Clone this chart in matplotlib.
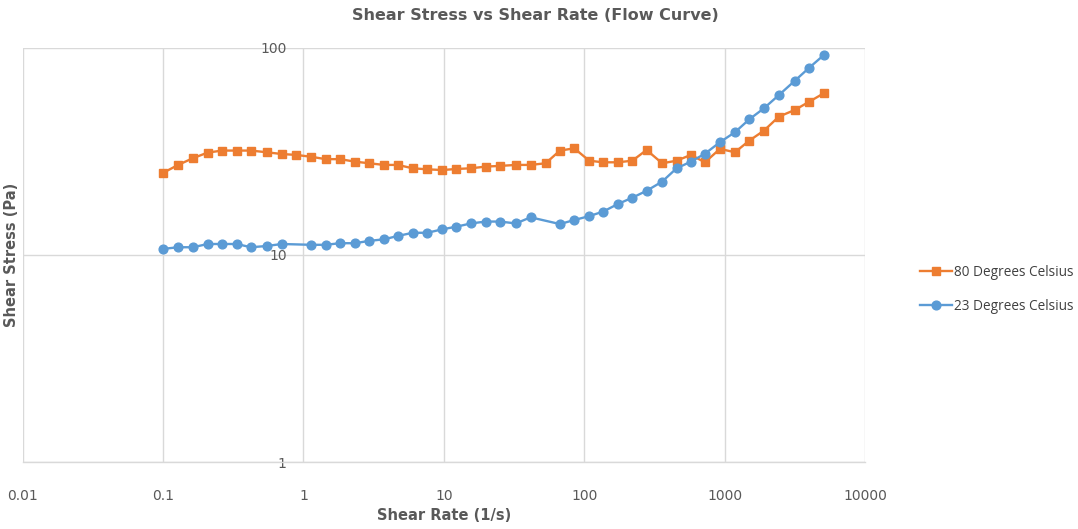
import matplotlib
matplotlib.use("Agg")
import matplotlib.pyplot as plt

# ---- data ----
rate_80 = [0.1, 0.128, 0.163, 0.208, 0.264, 0.334, 0.423, 0.547, 0.70, 0.884,
           1.125, 1.44, 1.82, 2.33, 2.94, 3.74, 4.69, 6.0, 7.62, 9.74,
           12.3, 15.6, 19.9, 25.1, 32.6, 41.5, 53.1, 67.1, 84.9, 108.5,
           136.5, 173, 220, 278, 359, 455, 575, 724, 926, 1184,
           1497, 1905, 2436, 3165, 4008, 5094]
stress_80 = [24.9, 27.2, 29.3, 31.2, 31.9, 31.9, 31.9, 31.3, 30.7, 30.4,
             29.8, 29.0, 29.0, 28.2, 27.7, 27.2, 27.2, 26.2, 25.9, 25.7,
             26.0, 26.2, 26.7, 26.9, 27.2, 27.2, 27.7, 31.9, 32.7, 28.5,
             28.0, 28.0, 28.5, 32.1, 27.7, 28.5, 30.4, 28.0, 32.5, 31.3,
             35.6, 39.8, 46.5, 50.1, 54.9, 60.3]

rate_23 = [0.1, 0.128, 0.163, 0.208, 0.264, 0.334, 0.423, 0.547, 0.70,
           1.125, 1.44, 1.82, 2.33, 2.94, 3.74, 4.69, 6.0, 7.62, 9.74,
           12.3, 15.6, 19.9, 25.1, 32.6, 41.5, 67.1, 84.9, 108.5,
           136.5, 173, 220, 278, 359, 455, 575, 724, 926, 1184,
           1497, 1905, 2436, 3165, 4008, 5094]
stress_23 = [10.7, 10.9, 10.9, 11.3, 11.3, 11.3, 10.9, 11.05, 11.3,
             11.2, 11.2, 11.4, 11.4, 11.7, 11.9, 12.35, 12.8, 12.8, 13.3,
             13.7, 14.2, 14.5, 14.5, 14.2, 15.2, 14.1, 14.75, 15.4,
             16.2, 17.6, 18.9, 20.4, 22.6, 26.2, 28.2, 30.8, 35.0, 39.1,
             45.1, 51.0, 59.1, 69.3, 80.1, 92.2]

x_ticks = [0.01, 0.1, 1, 10, 100, 1000, 10000]
x_tick_labels = ["0.01", "0.1", "1", "10", "100", "1000", "10000"]
y_ticks = [1, 10, 100]
y_tick_labels = ["1", "10", "100"]

title = "Shear Stress vs Shear Rate (Flow Curve)"
x_label = "Shear Rate (1/s)"
y_label = "Shear Stress (Pa)"
label_80 = "80 Degrees Celsius"
label_23 = "23 Degrees Celsius"

# ---- style ----
narrow = ["Liberation Sans Narrow", "DejaVu Sans"]
txt_gray = "#595959"
grid_gray = "#D9D9D9"
orange = "#ED7D31"
blue = "#5B9BD5"

fig = plt.figure(figsize=(10.78, 5.29), dpi=100)
W, H = 1078, 529
left, right, top, bottom = 22.7, 865, 47.7, 462.3
ax = fig.add_axes([left / W, 1 - bottom / H, (right - left) / W, (bottom - top) / H])

ax.set_xscale("log")
ax.set_yscale("log")
ax.set_xlim(0.01, 10000)
ax.set_ylim(1, 100)

ax.plot(rate_80, stress_80, color=orange, lw=1.7, marker="s", ms=6.0,
        label=label_80, zorder=3)
ax.plot(rate_23, stress_23, color=blue, lw=1.7, marker="o", ms=6.3,
        label=label_23, zorder=3)

ax.set_xticks(x_ticks)
ax.set_xticklabels(x_tick_labels)
ax.set_yticks(y_ticks)
ax.set_yticklabels(y_tick_labels)
ax.minorticks_off()
ax.tick_params(axis="both", length=0, labelcolor=txt_gray, labelsize=10)
ax.tick_params(axis="x", pad=19)
ax.tick_params(axis="y", pad=12)
for lab in ax.get_xticklabels() + ax.get_yticklabels():
    lab.set_family(narrow)

ax.grid(True, color=grid_gray, lw=1)
ax.set_axisbelow(True)
for s in ["top", "right"]:
    ax.spines[s].set_visible(False)
ax.spines["left"].set_position(("data", 1))
ax.spines["left"].set_visible(False)
ax.spines["bottom"].set_color(grid_gray)
ax.spines["bottom"].set_linewidth(1)

fig.text(535 / W, 1 - 15 / H, title, ha="center", va="center",
         fontsize=11.5, fontweight="bold", color=txt_gray, family=narrow)
fig.text(444 / W, 1 - 515 / H, x_label, ha="center", va="center",
         fontsize=10.5, fontweight="bold", color=txt_gray, family=narrow)
fig.text(12 / W, 1 - 255 / H, y_label, ha="center", va="center", rotation=90,
         fontsize=10.5, fontweight="bold", color=txt_gray, family=narrow)

leg = fig.legend(loc="center left", bbox_to_anchor=(908 / W, 1 - 289.5 / H),
                 frameon=False, handlelength=2.3,
                 handletextpad=0.15, labelspacing=1.4,
                 prop={"family": ["Open Sans", "DejaVu Sans"], "size": 9.8})
for t in leg.get_texts():
    t.set_color("#404040")

fig.savefig("out.png", dpi=100)
